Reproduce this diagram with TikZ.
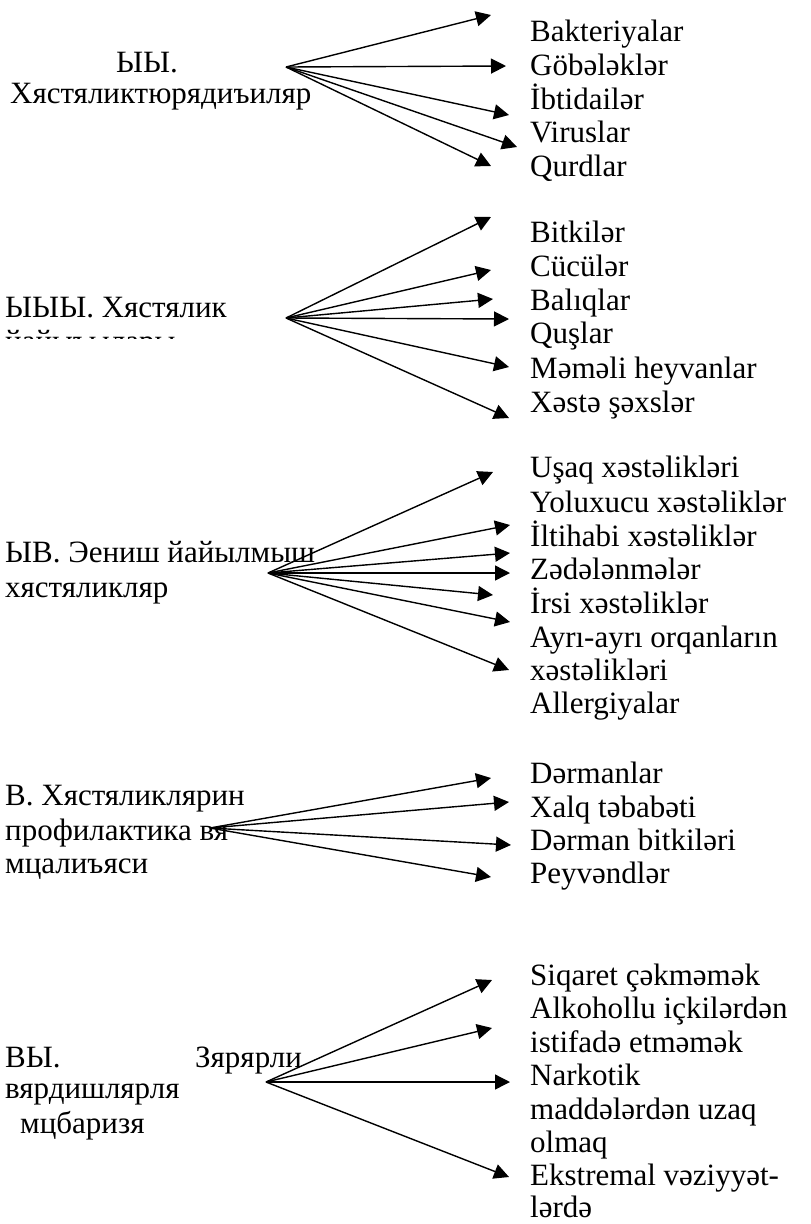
\documentclass[tikz,border=0pt]{standalone}
\usepackage{fontspec}
\setmainfont{Liberation Serif}
\usetikzlibrary{arrows.meta}

\tikzset{
  item/.style = {anchor = base west, inner sep = 0pt, font = \fontsize{31}{34}\selectfont},
  fan/.style = {line width = 1.4pt, -{Triangle[length = 15pt, width = 15pt]}}
}

\begin{document}
\begin{tikzpicture} [x = 1pt, y = -1pt]
\useasboundingbox (0, 0) rectangle (811, 1224);

% I
\node[item, anchor = base] (h1a) at (147, 72){ЫЫ.};
\node[item] (h1b) at (10, 103){Хястяликтюрядиъиляр};
\coordinate (s1) at (286, 67);
\node[item] (bakt) at (530, 41){Bakteriyalar};
\node[item] (gobe) at (530, 75){Göbələklər};
\node[item] (ibti) at (530, 109){İbtidailər};
\node[item] (viru) at (530, 142){Viruslar};
\node[item] (qurd) at (530, 176){Qurdlar};
\coordinate (t1a) at (491, 15);
\coordinate (t1b) at (506, 66);
\coordinate (t1c) at (509, 115);
\coordinate (t1d) at (517, 147);
\coordinate (t1e) at (491, 166);
\draw[fan] (s1) -- (t1a);
\draw[fan] (s1) -- (t1b);
\draw[fan] (s1) -- (t1c);
\draw[fan] (s1) -- (t1d);
\draw[fan] (s1) -- (t1e);

% II
\node[item] (h2a) at (5, 317){ЫЫЫ. Хястялик};
\begin{scope}
\clip (0, 300) rectangle (300, 338.5);
\node[item] (h2b) at (5, 351){йайыъылары};
\end{scope}
\coordinate (s2) at (286, 318);
\node[item] (bitk) at (530, 242){Bitkilər};
\node[item] (cucu) at (530, 276){Cücülər};
\node[item] (bali) at (530, 310){Balıqlar};
\node[item] (qusl) at (530, 343){Quşlar};
\node[item] (meme) at (530, 378){Məməli heyvanlar};
\node[item] (xest) at (530, 412){Xəstə şəxslər};
\coordinate (t2a) at (491, 217);
\coordinate (t2b) at (491, 270);
\coordinate (t2c) at (493, 299);
\coordinate (t2d) at (509, 319);
\coordinate (t2e) at (509, 367);
\coordinate (t2f) at (509, 418);
\draw[fan] (s2) -- (t2a);
\draw[fan] (s2) -- (t2b);
\draw[fan] (s2) -- (t2c);
\draw[fan] (s2) -- (t2d);
\draw[fan] (s2) -- (t2e);
\draw[fan] (s2) -- (t2f);

% IV
\node[item] (h3a) at (5, 562){ЫВ. Эениш йайылмыш};
\node[item] (h3b) at (5, 597){хястяликляр};
\coordinate (s3) at (268, 573);
\node[item] (usaq) at (530, 477){Uşaq xəstəlikləri};
\node[item] (yolu) at (530, 512){Yoluxucu xəstəliklər};
\node[item] (ilti) at (530, 546){İltihabi xəstəliklər};
\node[item] (zede) at (530, 579){Zədələnmələr};
\node[item] (irsi) at (530, 613){İrsi xəstəliklər};
\node[item] (ayri) at (530, 647){Ayrı-ayrı orqanların};
\node[item] (ayrb) at (530, 680){xəstəlikləri};
\node[item] (alle) at (530, 713){Allergiyalar};
\coordinate (t3a) at (493, 472);
\coordinate (t3b) at (510, 525);
\coordinate (t3c) at (510, 553);
\coordinate (t3d) at (510, 573);
\coordinate (t3e) at (493, 595);
\coordinate (t3f) at (510, 622);
\coordinate (t3g) at (509, 670);
\draw[fan] (s3) -- (t3a);
\draw[fan] (s3) -- (t3b);
\draw[fan] (s3) -- (t3c);
\draw[fan] (s3) -- (t3d);
\draw[fan] (s3) -- (t3e);
\draw[fan] (s3) -- (t3f);
\draw[fan] (s3) -- (t3g);

% V
\node[item] (h4a) at (5, 805){В. Хястяликлярин};
\node[item] (h4b) at (5, 840){профилактика вя};
\node[item] (h4c) at (5, 873){мцалиъяси};
\coordinate (s4) at (210, 828);
\node[item] (derm) at (530, 783){Dərmanlar};
\node[item] (xalq) at (530, 817){Xalq təbabəti};
\node[item] (bitd) at (530, 850){Dərman bitkiləri};
\node[item] (peyv) at (530, 883){Peyvəndlər};
\coordinate (t4a) at (491, 778);
\coordinate (t4b) at (509, 802);
\coordinate (t4c) at (511, 845);
\coordinate (t4d) at (491, 877);
\draw[fan] (s4) -- (t4a);
\draw[fan] (s4) -- (t4b);
\draw[fan] (s4) -- (t4c);
\draw[fan] (s4) -- (t4d);

% VI
\node[item] (h5a) at (5, 1067){ВЫ.};
\node[item] (h5b) at (195, 1067){Зярярли};
\node[item] (h5c) at (5, 1098){вярдишлярля};
\node[item] (h5d) at (20, 1133){мцбаризя};
\coordinate (s5) at (266, 1082);
\node[item] (siqa) at (530, 985){Siqaret çəkməmək};
\node[item] (alko) at (530, 1018){Alkohollu içkilərdən};
\node[item] (alkb) at (530, 1052){istifadə etməmək};
\node[item] (nark) at (530, 1085){Narkotik};
\node[item] (narb) at (530, 1119){maddələrdən uzaq};
\node[item] (narc) at (530, 1152){olmaq};
\node[item] (ekst) at (530, 1185){Ekstremal vəziyyət-};
\node[item] (eksb) at (530, 1217){lərdə};
\coordinate (t5a) at (492, 980);
\coordinate (t5b) at (492, 1028);
\coordinate (t5c) at (510, 1082);
\coordinate (t5d) at (509, 1177);
\draw[fan] (s5) -- (t5a);
\draw[fan] (s5) -- (t5b);
\draw[fan] (s5) -- (t5c);
\draw[fan] (s5) -- (t5d);
\end{tikzpicture}
\end{document}
